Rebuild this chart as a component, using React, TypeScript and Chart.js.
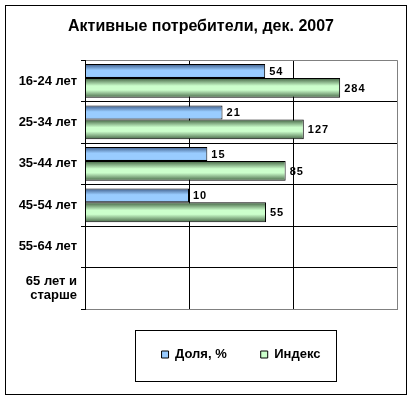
import React, { useEffect, useRef } from "react";
import { Chart, registerables } from "chart.js";

Chart.register(...registerables);

const TITLE = "Активные потребители, дек. 2007";
const CATEGORIES: (string | string[])[] = [
  "16-24 лет",
  "25-34 лет",
  "35-44 лет",
  "45-54 лет",
  "55-64 лет",
  ["65 лет и", "старше"],
];
const SHARE_LABEL = "Доля, %";
const INDEX_LABEL = "Индекс";
const SHARE_VALUES = [54, 21, 15, 10, null, null];
const INDEX_VALUES = [284, 127, 85, 55, null, null];
const X_TICKS = [1, 10, 100, 1000];

const FONT = "'Liberation Sans', Arial, sans-serif";

const gradientPlugin = {
  id: "barGradients",
  beforeDatasetsDraw(chart: any) {
    const ctx = chart.ctx;
    chart.data.datasets.forEach((ds: any, di: number) => {
      const meta = chart.getDatasetMeta(di);
      meta.data.forEach((el: any) => {
        if (el.y == null || isNaN(el.y)) return;
        const top = el.y - el.height / 2;
        const bottom = el.y + el.height / 2;
        const g = ctx.createLinearGradient(0, top, 0, bottom);
        const stops: [number, string][] = ds.gradientStops;
        stops.forEach(([o, c]) => g.addColorStop(o, c));
        if (Object.isFrozen(el.options)) {
          el.options = Object.assign({}, el.options, { backgroundColor: g });
        } else {
          el.options.backgroundColor = g;
        }
      });
    });
  },
};

const labelsPlugin = {
  id: "valueLabels",
  afterDatasetsDraw(chart: any) {
    const ctx = chart.ctx;
    ctx.save();
    ctx.font = `bold 11px ${FONT}`;
    (ctx as any).letterSpacing = "1px";
    ctx.fillStyle = "#000";
    ctx.textAlign = "left";
    ctx.textBaseline = "middle";
    chart.data.datasets.forEach((ds: any, di: number) => {
      const meta = chart.getDatasetMeta(di);
      meta.data.forEach((el: any, i: number) => {
        const v = ds.data[i];
        if (v == null) return;
        ctx.fillText(String(v), el.x + 4, el.y + 1);
      });
    });
    ctx.restore();
  },
};

const framePlugin = {
  id: "frames",
  beforeDraw(chart: any) {
    const ctx = chart.ctx;
    ctx.save();
    ctx.fillStyle = "#ffffff";
    ctx.fillRect(0, 0, chart.width, chart.height);
    ctx.restore();
  },
  afterDraw(chart: any) {
    const ctx = chart.ctx;
    ctx.save();
    ctx.strokeStyle = "#000";
    ctx.lineWidth = 1;
    ctx.strokeRect(5.5, 5.5, chart.width - 11, chart.height - 10);
    const lg = chart.legend;
    if (lg && lg.legendHitBoxes && lg.legendHitBoxes.length) {
      const hb = lg.legendHitBoxes;
      const first = hb[0];
      const last = hb[hb.length - 1];
      const cy = first.top + first.height / 2;
      const left = Math.round(first.left - 27) + 0.5;
      const right = Math.round(last.left + last.width + 16) + 0.5;
      const top = Math.round(cy - 25) + 0.5;
      const bottom = Math.round(cy + 26) + 0.5;
      ctx.strokeRect(left, top, right - left, bottom - top);
    }
    ctx.restore();
  },
};

export default function App() {
  const ref = useRef<HTMLCanvasElement>(null);

  useEffect(() => {
    document.body.style.margin = "0";
    const canvas = ref.current;
    if (!canvas) return;
    const chart = new Chart(canvas, {
      type: "bar",
      data: {
        labels: CATEGORIES,
        datasets: [
          {
            label: SHARE_LABEL,
            data: SHARE_VALUES,
            backgroundColor: () => "#99ccff",
            borderColor: "#000",
            borderWidth: 1,
            borderSkipped: false,
            categoryPercentage: 0.96,
            barPercentage: 0.7,
            gradientStops: [
              [0, "#3c5a86"],
              [0.45, "#99ccff"],
              [0.85, "#99ccff"],
              [1, "#86b4e6"],
            ],
          } as any,
          {
            label: INDEX_LABEL,
            data: INDEX_VALUES,
            backgroundColor: () => "#ccffcc",
            borderColor: "#000",
            borderWidth: 1,
            borderSkipped: false,
            categoryPercentage: 0.672,
            barPercentage: 1.4286,
            gradientStops: [
              [0, "#3e5e3e"],
              [0.4, "#ccffcc"],
              [0.6, "#ccffcc"],
              [1, "#456545"],
            ],
          } as any,
        ],
      },
      options: {
        indexAxis: "y",
        responsive: false,
        animation: false,
        events: [],
        layout: { padding: { left: 5, right: 15, top: 0, bottom: 28 } },
        scales: {
          x: {
            type: "logarithmic",
            min: 1,
            max: 1000,
            afterBuildTicks: (scale: any) => {
              scale.ticks = X_TICKS.map((v) => ({ value: v }));
            },
            afterFit: (scale: any) => {
              scale.height = 5;
            },
            ticks: { display: false },
            grid: {
              drawTicks: false,
              color: (c: any) =>
                c.tick && c.tick.value === 1000 ? "#808080" : "#000000",
              lineWidth: 1,
            },
            border: { display: true, color: "#808080", width: 1 },
          },
          y: {
            type: "category",
            afterFit: (scale: any) => {
              scale.width = 80;
            },
            ticks: {
              color: "#000",
              font: { family: FONT, size: 13, weight: "bold", lineHeight: 1.1 },
              padding: 4,
            },
            grid: {
              offset: true,
              drawTicks: true,
              tickLength: 4,
              tickColor: "#000",
              color: (c: any) =>
                c.index === undefined || c.index === 0 ? "#808080" : "#000000",
            },
            border: { display: true, color: "#000", width: 1 },
          },
        },
        plugins: {
          title: {
            display: true,
            text: TITLE,
            color: "#000",
            font: { family: FONT, size: 16, weight: "bold", lineHeight: 1.2 },
            padding: { top: 17, bottom: 24 },
          },
          legend: {
            display: true,
            position: "bottom",
            fullSize: false,
            labels: {
              color: "#000",
              font: { family: FONT, size: 13, weight: "bold" },
              boxWidth: 7,
              boxHeight: 7,
              padding: 34,
              generateLabels: (chart: any) =>
                chart.data.datasets.map((ds: any, i: number) => ({
                  text: ds.label,
                  fillStyle: i === 0 ? "#99ccff" : "#ccffcc",
                  strokeStyle: "#000",
                  lineWidth: 1,
                  datasetIndex: i,
                  hidden: false,
                })),
            },
          },
          tooltip: { enabled: false },
        },
      } as any,
      plugins: [framePlugin, gradientPlugin, labelsPlugin],
    });
    return () => chart.destroy();
  }, []);

  return (
    <canvas
      ref={ref}
      width={412}
      height={399}
      style={{ display: "block", width: 412, height: 399 }}
    />
  );
}
